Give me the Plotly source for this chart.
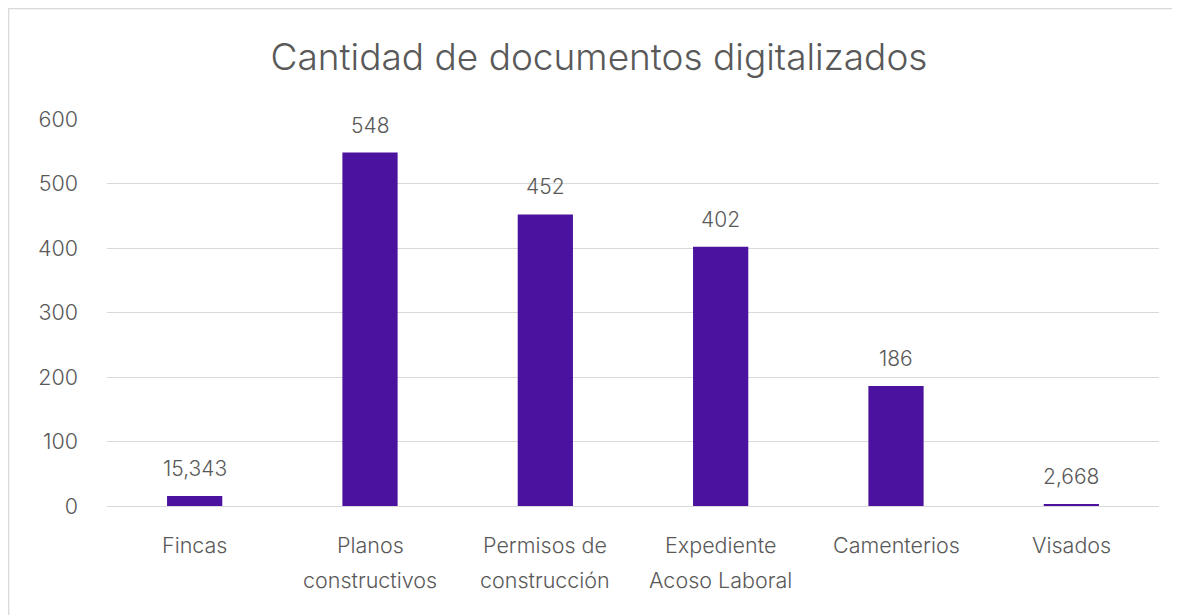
import plotly.graph_objects as go

categories = ["Fincas", "Planos constructivos", "Permisos de construcción",
              "Expediente Acoso Laboral", "Camenterios", "Visados"]
label_line1 = ["Fincas", "Planos", "Permisos de", "Expediente", "Camenterios", "Visados"]
label_line2 = ["", "constructivos", "construcción", "Acoso Laboral", "", ""]
values = [15.343, 548, 452, 402, 186, 2.668]
value_labels = ["15,343", "548", "452", "402", "186", "2,668"]
y_ticks = [0, 100, 200, 300, 400, 500, 600]

W, H = 1180, 615
OFF = 8  # page body margin
ML, MR, MT, MB = 107 - OFF, 21 + OFF, 119 - OFF, 615 - (506 - OFF)
PW, PH = W - ML - MR, H - MT - MB

FONT = "Inter, Roboto, DejaVu Sans"
WT = 300
GREY = "#595959"
BAR = "#4B12A0"

fig = go.Figure(go.Bar(x=categories, y=values, marker_color=BAR,
                       marker_line_width=0, hoverinfo="skip"))

ann = []
for c, v, t in zip(categories, values, value_labels):
    ann.append(dict(x=c, y=v, xref="x", yref="y", text=t, showarrow=False,
                    yanchor="bottom", yshift=13,
                    font=dict(family=FONT, size=21, color=GREY, weight=WT)))
for c, l1, l2 in zip(categories, label_line1, label_line2):
    ann.append(dict(x=c, y=-39 / PH, xref="x", yref="paper", text=l1, showarrow=False,
                    yanchor="middle", font=dict(family=FONT, size=21.5, color=GREY, weight=WT)))
    if l2:
        ann.append(dict(x=c, y=-74 / PH, xref="x", yref="paper", text=l2, showarrow=False,
                        yanchor="middle", font=dict(family=FONT, size=21.5, color=GREY, weight=WT)))

fig.update_layout(
    width=W, height=H,
    margin=dict(l=ML, r=MR, t=MT, b=MB),
    paper_bgcolor="white", plot_bgcolor="white",
    bargap=0.685,
    showlegend=False,
    title=dict(text="Cantidad de documentos digitalizados", x=(599 - OFF) / W, xref="container",
               xanchor="center", y=1 - (57 - OFF) / H, yref="container", yanchor="middle",
               font=dict(family=FONT, size=37, color=GREY, weight=WT)),
    xaxis=dict(showticklabels=False, showgrid=False, zeroline=False, showline=False,
               ticks=""),
    yaxis=dict(range=[0, 600], tickvals=y_ticks, ticktext=[str(v) for v in y_ticks],
               showgrid=True, gridcolor="#D9D9D9", gridwidth=1.3, zeroline=True,
               zerolinecolor="#D9D9D9", zerolinewidth=1.3, showline=False,
               ticks="", ticklabelstandoff=28,
               tickfont=dict(family=FONT, size=21.5, color=GREY, weight=WT)),
    annotations=ann,
    shapes=[dict(type="rect", xref="paper", yref="paper",
                 x0=(0.7 - ML) / PW, x1=(W + 5 - ML) / PW,
                 y0=(H - MB - (H + 5)) / PH, y1=(H - MB - 0.7) / PH,
                 line=dict(color="#D9D9D9", width=1.3), fillcolor="rgba(0,0,0,0)",
                 layer="below")],
)

fig.write_html("out.html")
